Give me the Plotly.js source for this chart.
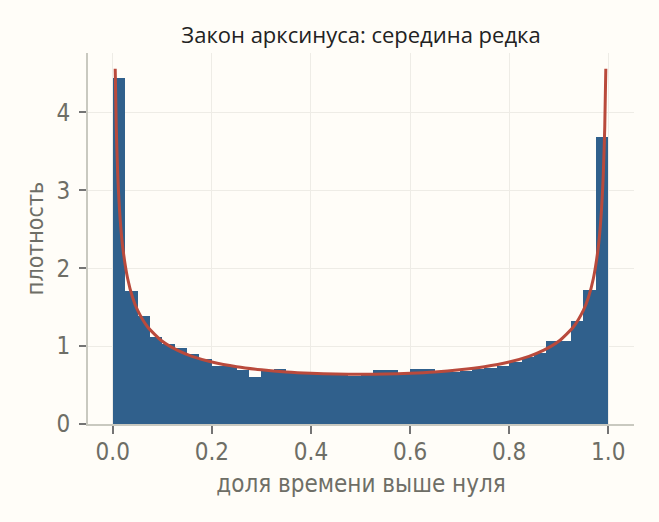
<!DOCTYPE html>
<html>
<head>
<meta charset="utf-8">
<script src="https://cdn.plot.ly/plotly-3.0.1.min.js"></script>
<style>
  html, body { margin: 0; padding: 0; background: #fffdf8; }
  #chart { width: 659px; height: 522px; }
</style>
</head>
<body>
<div id="chart"></div>
<script>
// histogram: 40 bins of width 0.025 on [0, 1], density values
var binWidth = 0.025;
var density = [
  4.44, 1.71, 1.39, 1.11, 1.03, 0.97, 0.90, 0.84, 0.75, 0.74,
  0.69, 0.60, 0.69, 0.70, 0.66, 0.65, 0.64, 0.64, 0.63, 0.61,
  0.63, 0.69, 0.69, 0.66, 0.70, 0.70, 0.67, 0.67, 0.68, 0.70,
  0.72, 0.75, 0.80, 0.86, 0.91, 1.07, 1.07, 1.32, 1.72, 3.68
];

// theoretical arcsine density
var curveX = [0.0049, 0.007, 0.01, 0.015, 0.02, 0.03, 0.04, 0.05, 0.07, 0.1,
  0.13, 0.16, 0.2, 0.25, 0.3, 0.35, 0.4, 0.45, 0.5, 0.55, 0.6, 0.65, 0.7,
  0.75, 0.8, 0.84, 0.87, 0.9, 0.93, 0.95, 0.96, 0.97, 0.98, 0.985, 0.99,
  0.993, 0.9951];
var curveY = [4.558, 3.818, 3.199, 2.619, 2.274, 1.866, 1.624, 1.461, 1.248, 1.061,
  0.947, 0.868, 0.796, 0.735, 0.695, 0.667, 0.650, 0.640, 0.637, 0.640, 0.650,
  0.667, 0.695, 0.735, 0.796, 0.868, 0.947, 1.061, 1.248, 1.461, 1.624, 1.866,
  2.274, 2.619, 3.199, 3.818, 4.558];

var xTicks = [0, 0.2, 0.4, 0.6, 0.8, 1.0];
var xTickText = ['0.0', '0.2', '0.4', '0.6', '0.8', '1.0'];
var yTicks = [0, 1, 2, 3, 4];

var centers = [];
for (var i = 0; i < density.length; i++) {
  centers.push(i * binWidth + binWidth / 2);
}

var bars = {
  x: centers,
  y: density,
  type: 'bar',
  width: binWidth,
  marker: { color: '#30608c', line: { width: 0 } },
  hoverinfo: 'skip'
};

var curve = {
  x: curveX,
  y: curveY,
  type: 'scatter',
  mode: 'lines',
  line: { color: '#b94a3c', width: 3, shape: 'spline', smoothing: 0.6 },
  hoverinfo: 'skip'
};

var narrow = 'Liberation Sans Narrow, DejaVu Sans Condensed, Roboto';
var tickFont = { family: narrow, size: 24, color: '#6e6e66' };

var layout = {
  width: 659,
  height: 522,
  paper_bgcolor: '#fffdf8',
  plot_bgcolor: '#fffdf8',
  showlegend: false,
  bargap: 0,
  margin: { l: 88, r: 25, t: 53, b: 98 },
  title: {
    text: 'Закон арксинуса: середина редка',
    font: { family: 'Open Sans, Noto Sans', size: 22, color: '#222222' },
    x: 0.5, xref: 'paper',
    y: 0.933, yref: 'container', yanchor: 'middle'
  },
  xaxis: {
    range: [-0.05, 1.052],
    tickvals: xTicks,
    ticktext: xTickText,
    ticks: 'outside', ticklen: 8, tickwidth: 2, tickcolor: '#747474',
    tickfont: tickFont,
    ticklabelstandoff: -3,
    showgrid: true, gridcolor: '#eeece6', gridwidth: 1,
    showline: true, linecolor: '#c9c9c0', linewidth: 2,
    zeroline: false,
    title: { text: 'доля времени выше нуля', font: { family: narrow, size: 24, color: '#6e6e66' }, standoff: 10 }
  },
  yaxis: {
    range: [0, 4.76],
    tickvals: yTicks,
    ticks: 'outside', ticklen: 7, tickwidth: 2, tickcolor: '#747474',
    tickfont: tickFont,
    ticklabelstandoff: 4,
    showgrid: true, gridcolor: '#eeece6', gridwidth: 1,
    showline: true, linecolor: '#c9c9c0', linewidth: 2,
    zeroline: false,
    title: { text: 'плотность', font: { family: narrow, size: 23, color: '#6e6e66' }, standoff: 6 }
  }
};

Plotly.newPlot('chart', [bars, curve], layout, { displayModeBar: false, staticPlot: true });
</script>
</body>
</html>
